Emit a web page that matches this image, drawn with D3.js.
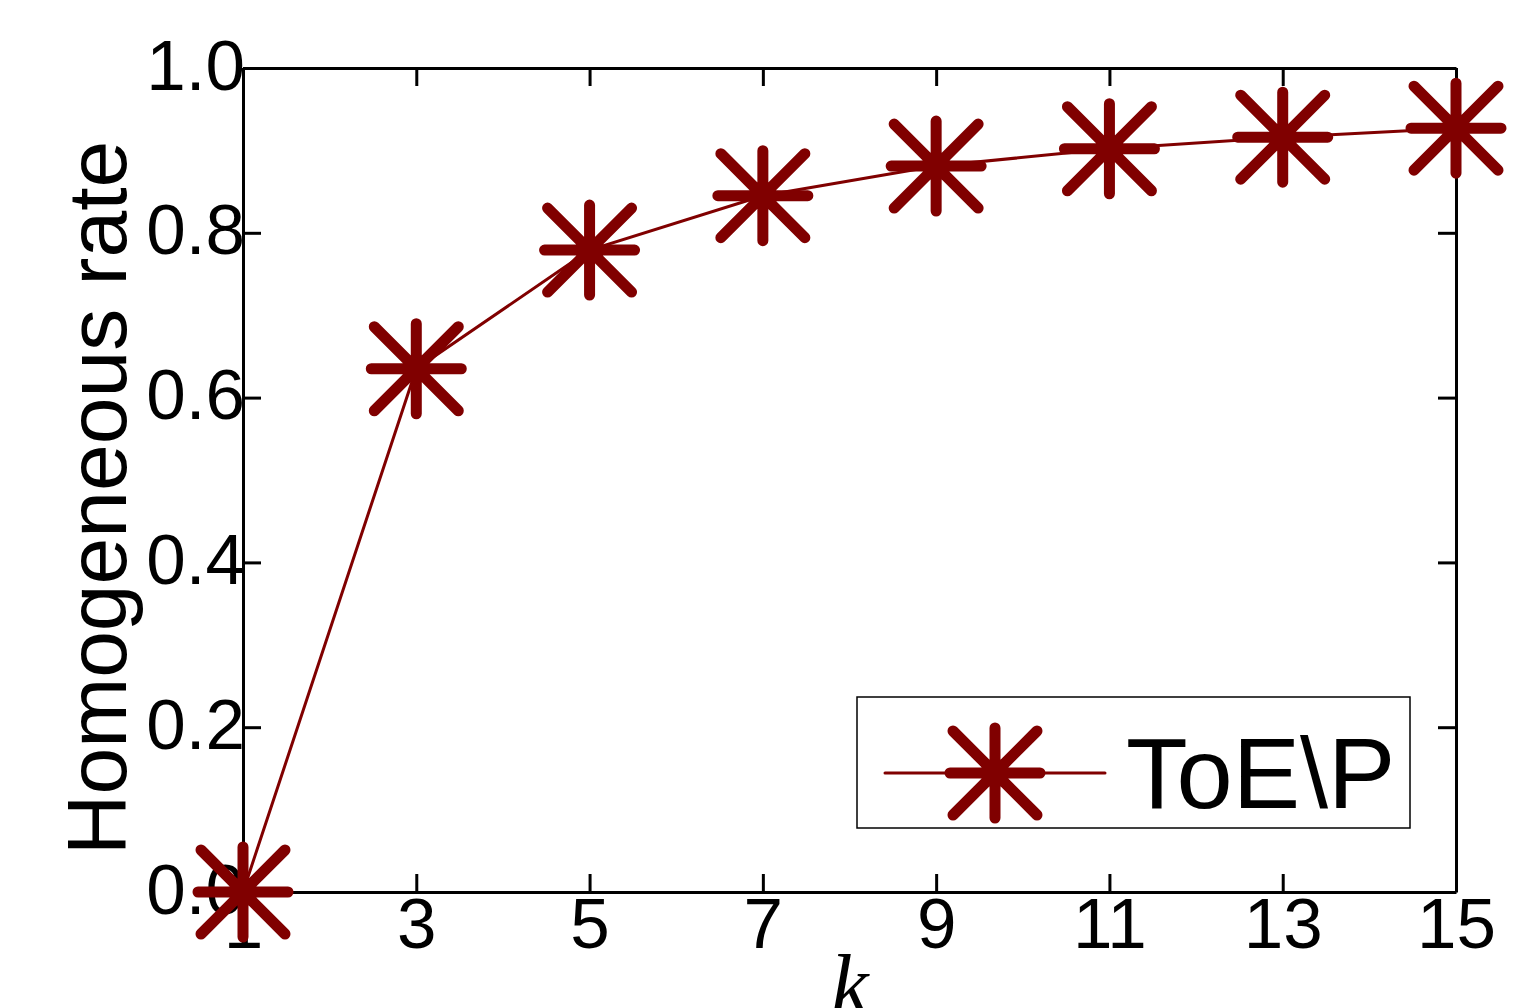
<!DOCTYPE html>
<html>
<head>
<meta charset="utf-8">
<script src="https://cdn.jsdelivr.net/npm/d3@7"></script>
<style>
html,body{margin:0;padding:0;background:#fff;}
svg{display:block;}
</style>
</head>
<body>
<svg id="chart" width="1537" height="1008"></svg>
<script>
const kValues = [1, 3, 5, 7, 9, 11, 13, 15];
const rateValues = [0.0, 0.635, 0.779, 0.845, 0.881, 0.902, 0.916, 0.927];
const xTicks = [1, 3, 5, 7, 9, 11, 13, 15];
const yTicks = [0, 0.2, 0.4, 0.6, 0.8, 1.0];
const seriesName = "ToE\\P";
const yTitle = "Homogeneous rate";
const xTitle = "k";

const color = "#800000";
const svg = d3.select("#chart");
const pLeft = 243, pRight = 1456, pTop = 68, pBottom = 892;
const x = d3.scaleLinear().domain([1, 15]).range([pLeft, pRight]);
const y = d3.scaleLinear().domain([0, 1]).range([pBottom, pTop]);
const font = "'Liberation Sans', Arial, sans-serif";

// Axes with inward ticks
const tickLen = 18;
const axB = d3.axisBottom(x).tickValues(xTicks).tickSizeInner(-tickLen).tickSizeOuter(0).tickFormat(d3.format("d"));
const axT = d3.axisTop(x).tickValues(xTicks).tickSizeInner(-tickLen).tickSizeOuter(0).tickFormat("");
const axL = d3.axisLeft(y).tickValues(yTicks).tickSizeInner(-tickLen).tickSizeOuter(0).tickFormat(d3.format(".1f"));
const axR = d3.axisRight(y).tickValues(yTicks).tickSizeInner(-tickLen).tickSizeOuter(0).tickFormat("");

function style(g){
  g.select(".domain").attr("stroke", "#000").attr("stroke-width", 3);
  g.selectAll(".tick line").attr("stroke", "#000").attr("stroke-width", 3);
  g.selectAll(".tick text").attr("fill", "#000").style("font-family", font).style("font-size", "71px");
}
const gB = svg.append("g").attr("transform", `translate(0,${pBottom})`).call(axB).call(style);
gB.selectAll(".tick text").attr("dy", null).attr("y", 56);
svg.append("g").attr("transform", `translate(0,${pTop})`).call(axT).call(style);
const gL = svg.append("g").attr("transform", `translate(${pLeft},0)`).call(axL).call(style);
gL.selectAll(".tick text").attr("dy", null).attr("x", 2).attr("y", 21);
svg.append("g").attr("transform", `translate(${pRight},0)`).call(axR).call(style);

// Axis titles
svg.append("text")
  .attr("transform", `translate(126,498) rotate(-90)`)
  .attr("text-anchor", "middle")
  .style("font-family", font).style("font-size", "84px")
  .text(yTitle);
svg.append("text")
  .attr("x", 850).attr("y", 1013)
  .attr("text-anchor", "middle")
  .style("font-family", "'Liberation Serif', 'Times New Roman', serif")
  .style("font-style", "italic").style("font-size", "84px")
  .text(xTitle);

// Asterisk marker path
function asterisk(r, d){
  return `M${-r},0L${r},0M0,${-r}L0,${r}M${-d},${-d}L${d},${d}M${-d},${d}L${d},${-d}`;
}
const markerPath = asterisk(45, 42);

const data = kValues.map((k, i) => ({k, v: rateValues[i]}));
const line = d3.line().x(d => x(d.k)).y(d => y(d.v));
svg.append("path").datum(data).attr("d", line)
  .attr("fill", "none").attr("stroke", color).attr("stroke-width", 3);
svg.append("g").selectAll("path").data(data).join("path")
  .attr("transform", d => `translate(${x(d.k)},${y(d.v)})`)
  .attr("d", markerPath)
  .attr("fill", "none").attr("stroke", color).attr("stroke-width", 11)
  .attr("stroke-linecap", "round");

// Legend
const lg = svg.append("g");
lg.append("rect").attr("x", 857).attr("y", 697).attr("width", 553).attr("height", 131)
  .attr("fill", "#fff").attr("stroke", "#000").attr("stroke-width", 1.5);
lg.append("line").attr("x1", 885).attr("x2", 1105).attr("y1", 773).attr("y2", 773)
  .attr("stroke", color).attr("stroke-width", 3).attr("stroke-linecap", "round");
lg.append("path").attr("transform", "translate(995,773)").attr("d", markerPath)
  .attr("fill", "none").attr("stroke", color).attr("stroke-width", 11).attr("stroke-linecap", "round");
lg.append("text").attr("x", 1126).attr("y", 808)
  .style("font-family", font).style("font-size", "101px")
  .text(seriesName);
</script>
</body>
</html>
